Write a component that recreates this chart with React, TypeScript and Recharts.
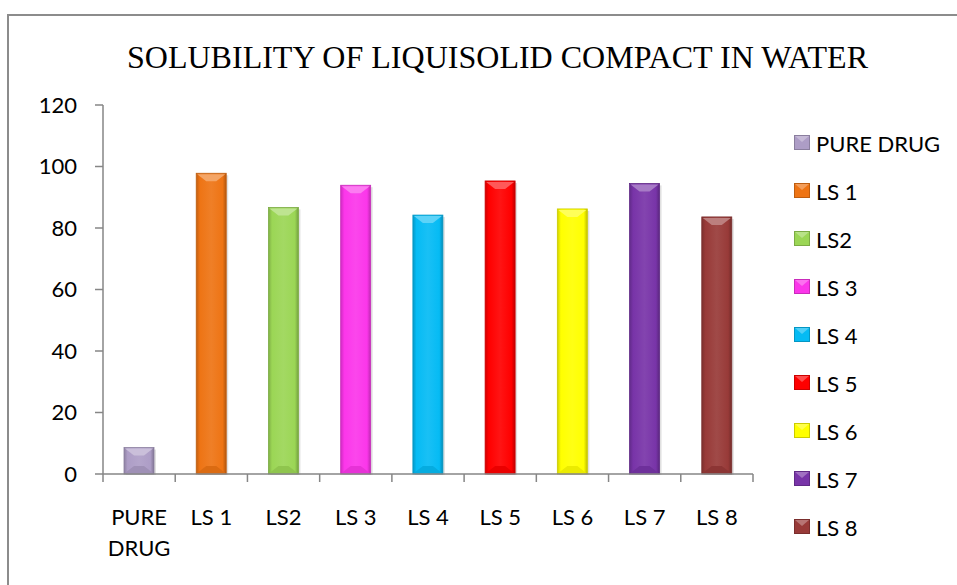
import React from 'react';
import { BarChart, Bar, XAxis, YAxis, Cell } from 'recharts';

const categories = ['PURE DRUG', 'LS 1', 'LS2', 'LS 3', 'LS 4', 'LS 5', 'LS 6', 'LS 7', 'LS 8'];
const solubility = [8.6, 97.8, 86.7, 93.9, 84.2, 95.3, 86.2, 94.5, 83.6];
const yTicks = [0, 20, 40, 60, 80, 100, 120];
const barColors = ['#ad9dc6', '#ee7414', '#9bd655', '#fb36ea', '#05bbf4', '#ff0000', '#ffff00', '#7834a8', '#983a38'];
const title = 'SOLUBILITY OF LIQUISOLID COMPACT IN WATER';

const data = categories.map((name, i) => ({ name, value: solubility[i] }));

const W = 957;
const H = 585;
const M = { top: 105, right: 204, bottom: 0, left: 0 };
const Y_AXIS_W = 103;
const X_AXIS_H = 111;
const FONT = 'Lato, "Open Sans", sans-serif';
const AXIS_COLOR = '#868686';

function mix(hex: string, target: number, t: number) {
  const n = parseInt(hex.slice(1), 16);
  const r = (n >> 16) & 255, g = (n >> 8) & 255, b = n & 255;
  const f = (c: number) => Math.round(c + (target - c) * t);
  return `rgb(${f(r)},${f(g)},${f(b)})`;
}

const Defs = () => (
  <defs>
    {barColors.map((c, i) => (
      <linearGradient key={i} id={`bg${i}`} x1="0" y1="0" x2="1" y2="0">
        <stop offset="0%" stopColor={mix(c, 0, 0.18)} />
        <stop offset="12%" stopColor={c} />
        <stop offset="50%" stopColor={mix(c, 255, 0.08)} />
        <stop offset="88%" stopColor={c} />
        <stop offset="100%" stopColor={mix(c, 0, 0.25)} />
      </linearGradient>
    ))}
  </defs>
);

const BevelBar = (props: any) => {
  const { x, y, width, height, index } = props;
  if (height == null || height <= 0) return null;
  const c = barColors[index];
  const cx = x + width / 2;
  const bev = Math.min(8, height / 2);
  return (
    <g>
      <rect x={x + 2} y={y + 2} width={width} height={height - 1} fill="#000" opacity={0.12} />
      <rect x={x} y={y} width={width} height={height} fill={`url(#bg${index})`} stroke={mix(c, 0, 0.2)} strokeWidth={0.8} />
      <polygon
        points={`${x + 1},${y + 1} ${x + width - 1},${y + 1} ${cx + 5},${y + bev} ${cx - 5},${y + bev}`}
        fill={mix(c, 255, 0.35)}
      />
      <polygon
        points={`${x + 1},${y + height - 1} ${x + width - 1},${y + height - 1} ${cx + 5},${y + height - bev} ${cx - 5},${y + height - bev}`}
        fill={mix(c, 0, 0.08)}
      />
    </g>
  );
};

const band = (W - Y_AXIS_W - M.right) / categories.length;

const XTick = (props: any) => {
  const { x, y, payload, index } = props;
  const label: string = payload.value;
  const lines = label === 'PURE DRUG' ? ['PURE', 'DRUG'] : [label];
  const isLast = index === categories.length - 1;
  return (
    <g>
      <line x1={x - band / 2} y1={y} x2={x - band / 2} y2={y + 8} stroke={AXIS_COLOR} strokeWidth={1.5} />
      {isLast && <line x1={x + band / 2} y1={y} x2={x + band / 2} y2={y + 8} stroke={AXIS_COLOR} strokeWidth={1.5} />}
      <text x={x} y={y + 51} textAnchor="middle" fontFamily={FONT} fontSize={22} fill="#000">
        {lines.map((l, i) => (
          <tspan key={i} x={x} dy={i === 0 ? 0 : 31}>{l}</tspan>
        ))}
      </text>
    </g>
  );
};

const LegendBox = () => (
  <div style={{ position: 'absolute', left: 794, top: 119, fontFamily: FONT, fontSize: 22, color: '#000' }}>
    {categories.map((name, i) => (
      <div key={name} style={{ height: 48, display: 'flex', alignItems: 'center' }}>
        <svg width={16} height={16} style={{ marginRight: 6 }}>
          <rect x={0.5} y={0.5} width={15} height={14} fill={barColors[i]} stroke={mix(barColors[i], 0, 0.2)} />
          <polygon points="1,1 15,1 8,7" fill={mix(barColors[i], 255, 0.3)} />
        </svg>
        <span style={{ whiteSpace: 'nowrap' }}>{name}</span>
      </div>
    ))}
  </div>
);

export default function App() {
  return (
    <div style={{ position: 'absolute', left: 0, top: 0, width: W, height: H, background: '#fff', overflow: 'hidden' }}>
      <div
        style={{
          position: 'absolute',
          left: 7,
          top: 14,
          width: W,
          height: H,
          borderLeft: '2px solid #8c8c8c',
          borderTop: '2px solid #8c8c8c',
        }}
      />
      <div style={{ position: 'absolute', left: 0, top: 0 }}>
        <BarChart width={W} height={H} data={data} margin={M} barSize={30}>
          <Defs />
          <text
            x={497.5}
            y={67.5}
            textAnchor="middle"
            fontFamily='"Liberation Serif", "Times New Roman", serif'
            fontSize={31}
            textLength={741}
            lengthAdjust="spacingAndGlyphs"
            fill="#000"
          >
            {title}
          </text>
          <XAxis
            dataKey="name"
            interval={0}
            height={X_AXIS_H}
            tickLine={false}
            tickSize={0}
            tickMargin={0}
            tick={<XTick />}
            axisLine={{ stroke: AXIS_COLOR, strokeWidth: 1.5 }}
          />
          <YAxis
            domain={[0, 120]}
            ticks={yTicks}
            width={Y_AXIS_W}
            interval={0}
            tickSize={8}
            tickMargin={18}
            tickLine={{ stroke: AXIS_COLOR, strokeWidth: 1.5 }}
            axisLine={{ stroke: AXIS_COLOR, strokeWidth: 1.5 }}
            tick={{ fontFamily: FONT, fontSize: 22, fill: '#000' }}
          />
          <Bar dataKey="value" isAnimationActive={false} shape={<BevelBar />}>
            {data.map((d, i) => (
              <Cell key={d.name} fill={barColors[i]} />
            ))}
          </Bar>
        </BarChart>
      </div>
      <LegendBox />
    </div>
  );
}
